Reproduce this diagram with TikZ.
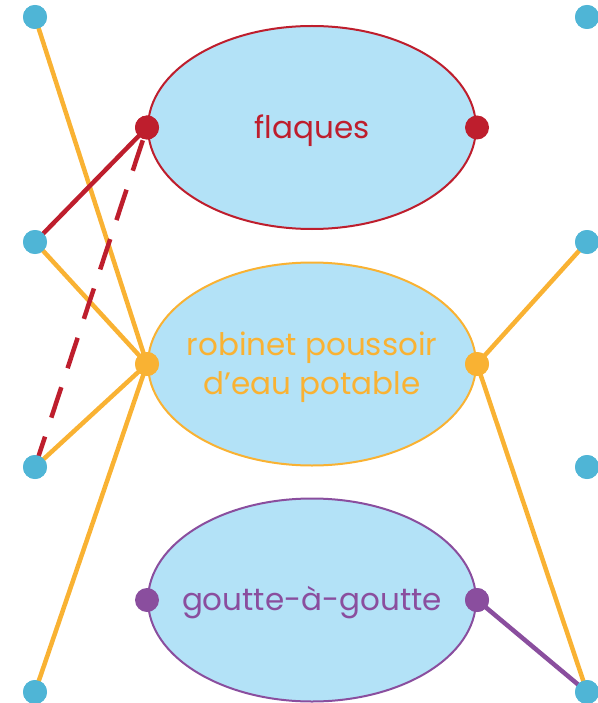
\documentclass[tikz,border=0pt]{standalone}
\usepackage{fontspec}
\setmainfont{Poppins}
\usetikzlibrary{shapes.geometric}
\definecolor{fillblue}{HTML}{B3E2F7}
\definecolor{dotblue}{HTML}{4FB5D6}
\definecolor{yel}{HTML}{F9B233}
\definecolor{rd}{HTML}{BE1E2D}
\definecolor{pur}{HTML}{8A4E9E}
\tikzset{
  bubble/.style={ellipse, draw=#1, fill=fillblue, line width=2pt, minimum width=328pt, minimum height=203pt, inner sep=0pt},
  lbl/.style={text=#1, font=\fontsize{31}{39}\selectfont, align=center, inner sep=0pt, yshift=-3pt},
  enddot/.style={circle, fill=dotblue, minimum size=24pt, inner sep=0pt},
  pin/.style={circle, fill=#1, minimum size=24pt, inner sep=0pt},
  link/.style={line width=4.5pt, draw=#1},
}
\begin{document}
\begin{tikzpicture}[x=1pt,y=-1pt]
\useasboundingbox (0,0) rectangle (597,703);
\node[bubble=rd] (e1) at (312,127.5) {};
\node[bubble=yel] (e2) at (312,364) {};
\node[bubble=pur] (e3) at (312,600) {};
\node[lbl=rd] (t1) at (e1) {flaques};
\node[lbl=yel] (t2) at (e2) {robinet poussoir\\d’eau potable};
\node[lbl=pur] (t3) at (e3) {goutte-à-goutte};
\node[pin=rd] (r1) at (e1.west) {};
\node[pin=rd] (r2) at (e1.east) {};
\node[pin=yel] (y1) at (e2.west) {};
\node[pin=yel] (y2) at (e2.east) {};
\node[pin=pur] (p1) at (e3.west) {};
\node[pin=pur] (p2) at (e3.east) {};
\node[enddot] (L1) at (35,17) {};
\node[enddot] (L2) at (35,242) {};
\node[enddot] (L3) at (35,467) {};
\node[enddot] (L4) at (35,692) {};
\node[enddot] (R1) at (587,17) {};
\node[enddot] (R2) at (587,242) {};
\node[enddot] (R3) at (587,467) {};
\node[enddot] (R4) at (587,692) {};
\draw[link=yel] (L1.center) -- (y1.center);
\draw[link=yel] (L2.center) -- (y1.center);
\draw[link=yel] (L3.center) -- (y1.center);
\draw[link=yel] (L4.center) -- (y1.center);
\draw[link=rd] (L2.center) -- (r1.center);
\draw[link=rd, dash pattern=on 32pt off 20pt] (L3.center) -- (r1.center);
\draw[link=yel] (y2.center) -- (R2.center);
\draw[link=yel] (y2.center) -- (R4.center);
\draw[link=pur] (p2.center) -- (R4.center);
\node[pin=rd] at (r1) {};
\node[pin=yel] at (y1) {};
\node[pin=yel] at (y2) {};
\node[pin=pur] at (p2) {};
\foreach \n in {L1,L2,L3,L4,R1,R2,R3,R4} \node[enddot] at (\n) {};
\end{tikzpicture}
\end{document}
